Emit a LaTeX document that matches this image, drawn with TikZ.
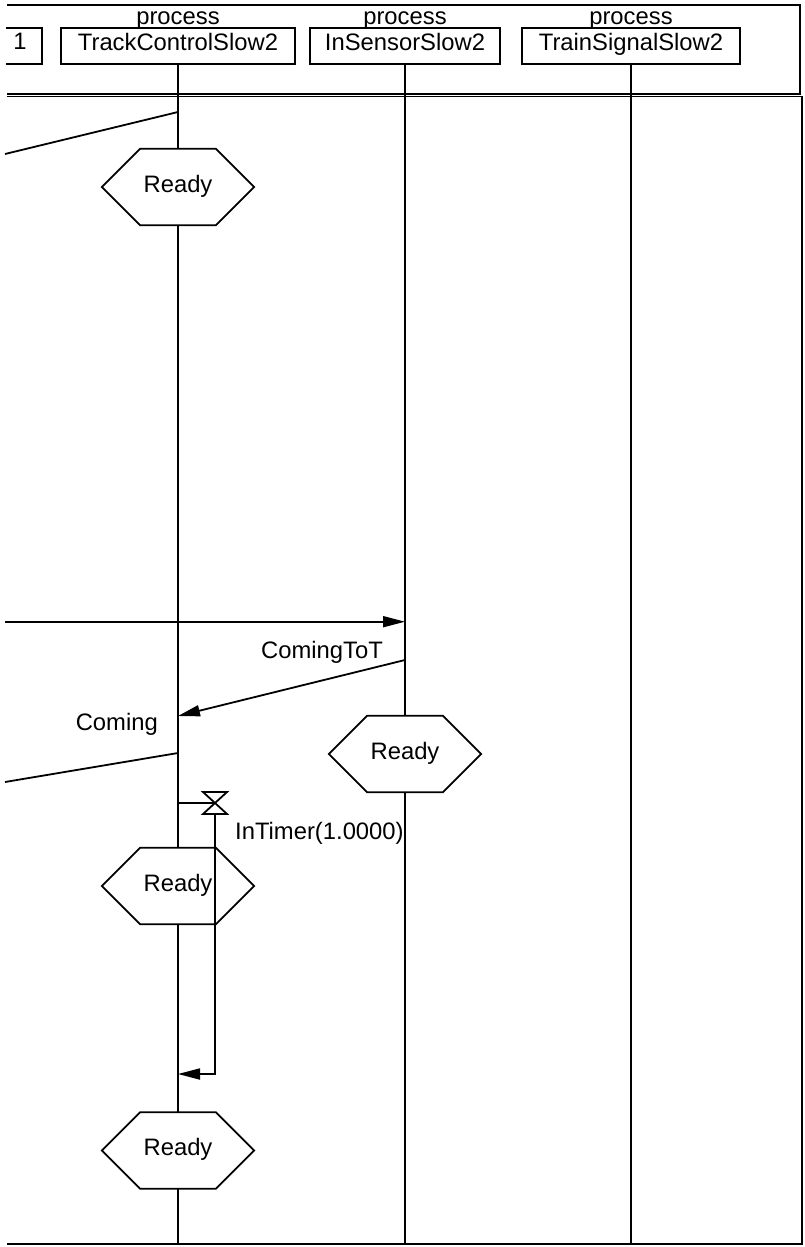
\documentclass[tikz,border=0pt]{standalone}
\usepackage{fontspec}
\setmainfont{Liberation Sans}
\usetikzlibrary{arrows.meta}
\newcommand\hexstate[3]{%
  \node[hexbox] (#1) at #2 {#3};
  \draw[ln] ([xshift=-38pt]#1.north) -- ([xshift=38pt]#1.north) -- (#1.east)
    -- ([xshift=38pt]#1.south) -- ([xshift=-38pt]#1.south) -- (#1.west) -- cycle;
}
\begin{document}
\begin{tikzpicture}[x=1pt,y=-1pt,
  every node/.style={font=\fontsize{23.8pt}{28pt}\selectfont,inner sep=0pt},
  ln/.style={line width=1.8pt},
  msg/.style={ln,-{Triangle[length=22pt,width=11pt]}},
  procbox/.style={draw,ln,minimum height=36pt,text height=17.2pt,text depth=8.4pt},
  hexbox/.style={minimum width=152pt,minimum height=76pt,text height=17.2pt,text depth=7.2pt}]
\useasboundingbox (0,0) rectangle (805,1247);

% header frame
\draw[ln] (7,5) -| (800,93.8) -- (7,93.8);
% body frame
\draw[ln] (7,96.5) -| (802,1244);
\coordinate (bot) at (0,1244);
\draw[line width=2.8pt] (7,1244) -- (803.3,1244);

% instance heads
\node[anchor=base] (p0) at (20,50) {1};
\draw[ln] (6,28) -| (41.7,64) -- (6,64);
\node[procbox,minimum width=234pt] (p1) at (178,46) {TrackControlSlow2};
\node[procbox,minimum width=190pt] (p2) at (405,46) {InSensorSlow2};
\node[procbox,minimum width=218pt] (p3) at (631,46) {TrainSignalSlow2};
\node[anchor=base] (k1) at (178,25) {process};
\node[anchor=base] (k2) at (405,25) {process};
\node[anchor=base] (k3) at (631,25) {process};

% states
\hexstate{h1}{(178,187)}{Ready}
\hexstate{h2}{(405,754)}{Ready}
\hexstate{h3}{(178,886)}{Ready}
\hexstate{h4}{(178,1150.5)}{Ready}

% lifelines
\draw[ln] (p1.south) -- (h1.north) (h1.south) -- (h3.north)
          (h3.south) -- (h4.north) (h4.south) -- (p1.south |- bot);
\draw[ln] (p2.south) -- (h2.north) (h2.south) -- (p2.south |- bot);
\draw[ln] (p3.south) -- (p3.south |- bot);

% messages
\coordinate (a1) at (178,112);
\coordinate (e1) at (5,154);
\draw[ln] (a1) -- (e1);

\coordinate (e2) at (5,621.7);
\coordinate (b2) at (405,621.7);
\draw[msg] (e2) -- (b2);

\coordinate (b3) at (405,660);
\coordinate (a3) at (178,716);
\draw[msg] (b3) -- (a3);
\node[anchor=base east] (lc1) at (383,658) {ComingToT};
\node[anchor=base east] (lc2) at (158,730) {Coming};

\coordinate (a4) at (178,753);
\coordinate (e4) at (5,782);
\draw[ln] (a4) -- (e4);

% timer
\coordinate (a5) at (178,803);
\coordinate (t1) at (215,803);
\draw[ln] (a5) -- (t1);
\draw[ln] ([shift={(-12,-11)}]t1) -- ([shift={(12,-11)}]t1)
   -- ([shift={(-12,11)}]t1) -- ([shift={(12,11)}]t1) -- cycle;
\node[anchor=base west] (lt) at (235,839) {InTimer(1.0000)};
\coordinate (a6) at (178,1074);
\draw[msg] ([shift={(0,11)}]t1) |- (a6);
\end{tikzpicture}
\end{document}
